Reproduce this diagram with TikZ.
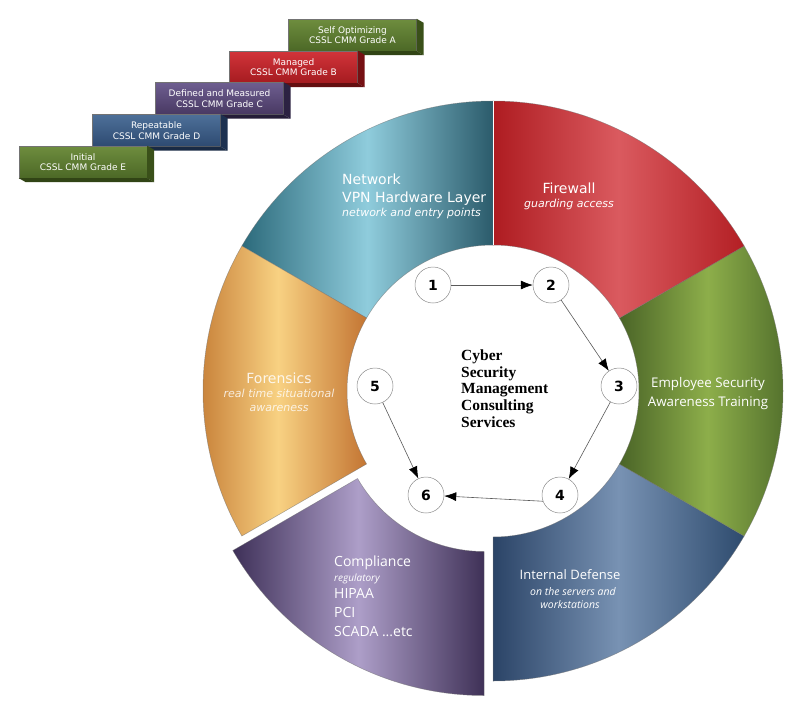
\documentclass[tikz,border=0pt]{standalone}
\usepackage{fontspec}
\setmainfont{Liberation Serif}
\newfontfamily\dvfont{DejaVu Sans}
\newfontfamily\osfont{Open Sans}
\usetikzlibrary{arrows.meta}
\definecolor{tealA}{HTML}{2C6A7B}\definecolor{tealB}{HTML}{8FCCDC}\definecolor{tealC}{HTML}{2B5B6B}
\definecolor{redA}{HTML}{AE1C21}\definecolor{redB}{HTML}{DA5A5F}\definecolor{redC}{HTML}{B31F24}
\definecolor{grnA}{HTML}{4A6427}\definecolor{grnB}{HTML}{8DAE4A}\definecolor{grnC}{HTML}{4C6929}
\definecolor{bluA}{HTML}{2B4467}\definecolor{bluB}{HTML}{7892B3}\definecolor{bluC}{HTML}{2E4B6E}
\definecolor{purA}{HTML}{3E3058}\definecolor{purB}{HTML}{AD9EC8}\definecolor{purC}{HTML}{3F3157}
\definecolor{orgA}{HTML}{C27831}\definecolor{orgB}{HTML}{F8D182}\definecolor{orgC}{HTML}{C37533}
% grade boxes
\definecolor{gbGrnT}{HTML}{6E8D3E}\definecolor{gbGrnB}{HTML}{4C6826}\definecolor{gbGrnS}{HTML}{3A5019}
\definecolor{gbRedT}{HTML}{D2343A}\definecolor{gbRedB}{HTML}{A51B20}\definecolor{gbRedS}{HTML}{761013}
\definecolor{gbPurT}{HTML}{6E5E90}\definecolor{gbPurB}{HTML}{483862}\definecolor{gbPurS}{HTML}{2C2242}
\definecolor{gbBluT}{HTML}{4E7099}\definecolor{gbBluB}{HTML}{2D4A71}\definecolor{gbBluS}{HTML}{1D3150}
\tikzset{
  seg/.style={draw=black!55, draw opacity=0.6, line width=0.5pt},
  gradebox/.style={rectangle, minimum width=128pt, minimum height=32pt, inner sep=0pt,
    text=white, align=center, draw=black!55, line width=0.4pt,
    font=\dvfont\fontsize{9}{10.5}\selectfont},
  numc/.style={circle, draw=black!45, line width=0.5pt, fill=white, minimum size=36pt, inner sep=0pt,
    font=\dvfont\bfseries\fontsize{14}{14}\selectfont},
  flow/.style={draw=black!65, line width=0.6pt, -{Latex[length=12pt,width=9pt,color=black]}},
  labA/.style={text=white, inner sep=0pt, font=\dvfont\fontsize{14}{16}\selectfont},
  labAi/.style={text=white, inner sep=0pt, font=\dvfont\itshape\fontsize{11}{13}\selectfont},
  labB/.style={text=white, inner sep=0pt, font=\osfont\fontsize{13.3}{15}\selectfont},
  labBi/.style={text=white, inner sep=0pt, font=\osfont\itshape\fontsize{10.5}{12}\selectfont},
  ctrtext/.style={inner sep=0pt, align=left, font=\bfseries\fontsize{15.5}{16.75}\selectfont},
}
\begin{document}
\begin{tikzpicture}[x=1pt,y=1pt]
\useasboundingbox[fill=white] (0,0) rectangle (800,-712);

% ---------- grade steps (top left) ----------
\node[gradebox, top color=gbGrnT, bottom color=gbGrnB] (gA) at (352.5,-35) {Self Optimizing\\CSSL CMM Grade A};
\fill[gbGrnS] (gA.north east) -- ++(7,-4) -- ([shift={(7,-4)}]gA.south east) -- (gA.south east) -- cycle;
\fill[gbGrnS!85!black] (gA.south west) -- (gA.south east) -- ([shift={(7,-4)}]gA.south east) -- ([shift={(7,-4)}]gA.south west) -- cycle;

\node[gradebox, top color=gbRedT, bottom color=gbRedB] (gB) at (293.5,-67) {Managed\\CSSL CMM Grade B};
\fill[gbRedS] (gB.north east) -- ++(7,-4) -- ([shift={(7,-4)}]gB.south east) -- (gB.south east) -- cycle;
\fill[gbRedS!85!black] (gB.south west) -- (gB.south east) -- ([shift={(7,-4)}]gB.south east) -- ([shift={(7,-4)}]gB.south west) -- cycle;

\node[gradebox, top color=gbPurT, bottom color=gbPurB] (gC) at (219.5,-98.5) {Defined and Measured\\CSSL CMM Grade C};
\fill[gbPurS] (gC.north east) -- ++(7,-4) -- ([shift={(7,-4)}]gC.south east) -- (gC.south east) -- cycle;
\fill[gbPurS!85!black] (gC.south west) -- (gC.south east) -- ([shift={(7,-4)}]gC.south east) -- ([shift={(7,-4)}]gC.south west) -- cycle;

\node[gradebox, top color=gbBluT, bottom color=gbBluB] (gD) at (156.5,-130.5) {Repeatable\\CSSL CMM Grade D};
\fill[gbBluS] (gD.north east) -- ++(7,-4) -- ([shift={(7,-4)}]gD.south east) -- (gD.south east) -- cycle;
\fill[gbBluS!85!black] (gD.south west) -- (gD.south east) -- ([shift={(7,-4)}]gD.south east) -- ([shift={(7,-4)}]gD.south west) -- cycle;

\node[gradebox, top color=gbGrnT, bottom color=gbGrnB] (gE) at (83,-162) {Initial\\CSSL CMM Grade E};
\fill[gbGrnS] (gE.north east) -- ++(7,-4) -- ([shift={(7,-4)}]gE.south east) -- (gE.south east) -- cycle;
\fill[gbGrnS!85!black] (gE.south west) -- (gE.south east) -- ([shift={(7,-4)}]gE.south east) -- ([shift={(7,-4)}]gE.south west) -- cycle;

% ---------- ring segments ----------
\begin{scope}[shift={(493,-391)}]
  % Network (teal)
  \path[seg, left color=tealA, right color=tealC, middle color=tealB]
    (90:146) -- (90:290) arc[start angle=90, end angle=150, radius=290]
    -- (150:146) arc[start angle=150, end angle=90, radius=146] -- cycle;
  % Forensics (orange)
  \path[seg, left color=orgA, right color=orgC, middle color=orgB]
    (150:146) -- (150:290) arc[start angle=150, end angle=210, radius=290]
    -- (210:146) arc[start angle=210, end angle=150, radius=146] -- cycle;
  % Internal Defense (blue)
  \path[seg, left color=bluA, right color=bluC, middle color=bluB]
    (270:146) -- (270:290) arc[start angle=270, end angle=330, radius=290]
    -- (330:146) arc[start angle=330, end angle=270, radius=146] -- cycle;
  % Employee (green)
  \path[seg, left color=grnA, right color=grnC, middle color=grnB]
    (-30:146) -- (-30:290) arc[start angle=-30, end angle=30, radius=290]
    -- (30:146) arc[start angle=30, end angle=-30, radius=146] -- cycle;
  % Firewall (red)
  \path[seg, left color=redA, right color=redC, middle color=redB]
    (30:146) -- (30:290) arc[start angle=30, end angle=90, radius=290]
    -- (90:146) arc[start angle=90, end angle=30, radius=146] -- cycle;
  \draw[white, line width=1pt] (90:146) -- (90:290);
\end{scope}
% Compliance (purple), pulled out
\begin{scope}[shift={(484,-405.5)}]
  \path[seg, left color=purA, right color=purC, middle color=purB]
    (210:146) -- (210:290) arc[start angle=210, end angle=270, radius=290]
    -- (270:146) arc[start angle=270, end angle=210, radius=146] -- cycle;
\end{scope}

% ---------- segment labels ----------
\node[labA, anchor=base west] (nw1) at (342,-184) {Network};
\node[labA, anchor=base west] (nw2) at (342,-202) {VPN Hardware Layer};
\node[labAi, anchor=base west] (nw3) at (342,-216) {network and entry points};

\node[labA, anchor=base] (fw1) at (569,-193) {Firewall};
\node[labAi, anchor=base] (fw2) at (569,-207) {guarding access};

\node[labB, anchor=base] (em1) at (708,-387) {Employee Security};
\node[labB, anchor=base] (em2) at (708,-406) {Awareness Training};

\node[labA, anchor=base, text opacity=0.85] (fo1) at (279,-383) {Forensics};
\node[labAi, anchor=base, text opacity=0.8] (fo2) at (279,-397) {real time situational};
\node[labAi, anchor=base, text opacity=0.8] (fo3) at (279,-411) {awareness};

\node[labB, anchor=base west, font=\osfont\fontsize{14}{16}\selectfont] (co1) at (334,-566) {Compliance};
\node[labBi, anchor=base west, font=\osfont\itshape\fontsize{10}{12}\selectfont] (co2) at (334,-581) {regulatory};
\node[labB, anchor=base west, font=\osfont\fontsize{14}{16}\selectfont] (co3) at (334,-598) {HIPAA};
\node[labB, anchor=base west, font=\osfont\fontsize{14}{16}\selectfont] (co4) at (334,-617) {PCI};
\node[labB, anchor=base west, font=\osfont\fontsize{14}{16}\selectfont] (co5) at (334,-636) {SCADA ...etc};

\node[labB, anchor=base, font=\osfont\fontsize{13}{15}\selectfont] (id1) at (570,-579) {Internal Defense};
\node[labBi, anchor=base] (id2) at (573,-595) {on the servers and};
\node[labBi, anchor=base] (id3) at (570,-608) {workstations};

% ---------- centre ----------
\node[ctrtext, anchor=north west] (ctr) at (461,-349.4) {Cyber\\Security\\Management\\Consulting\\Services};

\node[numc] (c1) at (433,-285) {1};
\node[numc] (c2) at (551,-285) {2};
\node[numc] (c3) at (619,-386) {3};
\node[numc] (c4) at (560,-495) {4};
\node[numc] (c5) at (375,-386) {5};
\node[numc] (c6) at (426,-495) {6};

\draw[flow] (c1) -- (c2);
\draw[flow] (c2) -- (c3);
\draw[flow] (c3) -- (c4);
\draw[flow] (c4.200) -- (c6);
\draw[flow] (c5) -- (c6);
\end{tikzpicture}
\end{document}
